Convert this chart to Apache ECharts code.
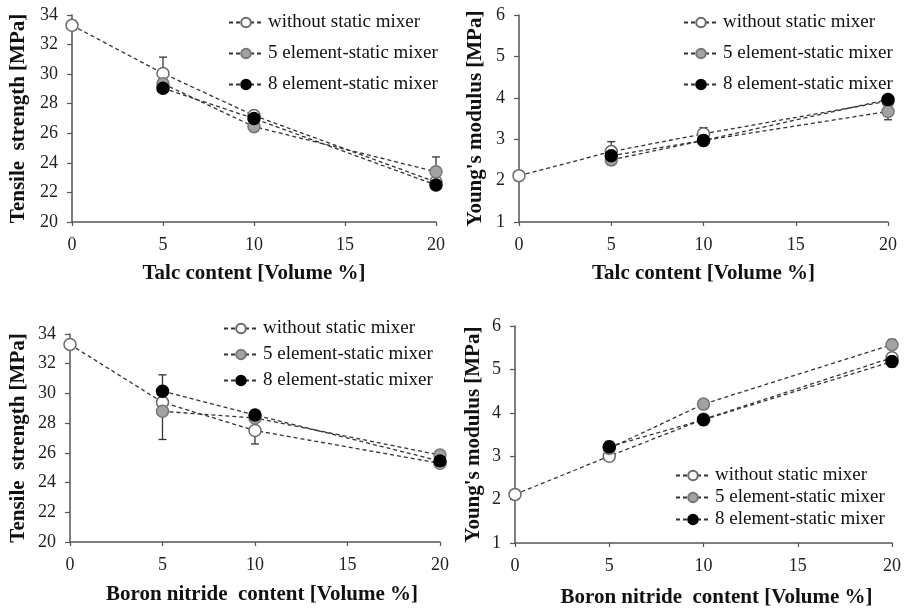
<!DOCTYPE html>
<html>
<head>
<meta charset="utf-8">
<script src="https://cdn.jsdelivr.net/npm/echarts@6/dist/echarts.min.js"></script>
<style>html,body{margin:0;padding:0;background:#fff}#c{width:904px;height:609px}</style>
</head>
<body>
<div id="c"></div>
<script>
// ---- data ----
const seriesNames = ['without static mixer', '5 element-static mixer', '8 element-static mixer'];
const xWithout = [0, 5, 10, 20];
const xMixer = [5, 10, 20];
const xTicks = [0, 5, 10, 15, 20];

// Talc - tensile strength [MPa]
const talcTS_without = [33.3, 30.05, 27.2, 22.7];
const talcTS_5 = [29.35, 26.45, 23.4];
const talcTS_8 = [29.05, 27.0, 22.5];
const talcTS_withoutErr = [[0, 0], [0, 1.1], [0.3, 0.3], [0, 0]];
const talcTS_5Err = [[0, 0], [0, 0], [0, 1.0]];
const talcTS_8Err = [[0, 0], [0, 0], [0, 0]];

// Talc - Young's modulus [MPa]
const talcYM_without = [2.12, 2.7, 3.13, 3.92];
const talcYM_5 = [2.5, 2.97, 3.67];
const talcYM_8 = [2.6, 2.97, 3.96];
const talcYM_withoutErr = [[0, 0], [0, 0.24], [0, 0.15], [0, 0]];
const talcYM_5Err = [[0.12, 0], [0, 0], [0.2, 0]];
const talcYM_8Err = [[0, 0], [0, 0], [0, 0.1]];

// Boron nitride - tensile strength [MPa]
const bnTS_without = [33.3, 29.4, 27.5, 25.3];
const bnTS_5 = [28.8, 28.35, 25.85];
const bnTS_8 = [30.15, 28.55, 25.45];
const bnTS_withoutErr = [[0, 0], [0, 0], [0.9, 0.9], [0, 0]];
const bnTS_5Err = [[1.9, 0], [0, 0], [0, 0]];
const bnTS_8Err = [[0, 1.1], [0, 0], [0, 0]];

// Boron nitride - Young's modulus [MPa]
const bnYM_without = [2.12, 3.0, 3.85, 5.27];
const bnYM_5 = [3.18, 4.2, 5.57];
const bnYM_8 = [3.22, 3.84, 5.18];
const bnYM_withoutErr = [[0.1, 0], [0, 0], [0, 0], [0, 0]];
const bnYM_5Err = [[0, 0], [0, 0], [0, 0.12]];
const bnYM_8Err = [[0, 0.12], [0.12, 0.12], [0.12, 0]];

// ---- styles ----
const FONT = '"Liberation Serif", "DejaVu Serif", serif';
const markerStyles = [
  { color: '#ffffff', borderColor: '#6a6a6a', borderWidth: 1.5 },
  { color: '#a3a3a3', borderColor: '#777777', borderWidth: 1.5 },
  { color: '#000000', borderColor: '#000000', borderWidth: 1.5 }
];

const panels = [
  { grid: { left: 72, top: 15, width: 364, height: 207 }, ymin: 20, ymax: 34, yint: 2,
    yname: 'Tensile  strength [MPa]', xname: 'Talc content [Volume %]', ynameGap: 43, xnameGap: 41, xpad: 0,
    data: [talcTS_without, talcTS_5, talcTS_8], err: [talcTS_withoutErr, talcTS_5Err, talcTS_8Err],
    legend: { left: 223, top: 8, itemGap: 12 } },
  { grid: { left: 519, top: 15, width: 369, height: 207 }, ymin: 1, ymax: 6, yint: 1,
    yname: "Young's modulus [MPa]", xname: 'Talc content [Volume %]', ynameGap: 33, xnameGap: 41, xpad: 0,
    data: [talcYM_without, talcYM_5, talcYM_8], err: [talcYM_withoutErr, talcYM_5Err, talcYM_8Err],
    legend: { left: 678, top: 8, itemGap: 12 } },
  { grid: { left: 70, top: 334, width: 370, height: 208 }, ymin: 20, ymax: 34, yint: 2,
    yname: 'Tensile  strength [MPa]', xname: 'Boron nitride  content [Volume %]', ynameGap: 41, xnameGap: 42, xpad: 14,
    data: [bnTS_without, bnTS_5, bnTS_8], err: [bnTS_withoutErr, bnTS_5Err, bnTS_8Err],
    legend: { left: 218, top: 314, itemGap: 7 } },
  { grid: { left: 515, top: 326, width: 377, height: 220 }, ymin: 1, ymax: 6, yint: 1,
    yname: "Young's modulus [MPa]", xname: 'Boron nitride  content [Volume %]', ynameGap: 31, xnameGap: 44, xpad: 26,
    data: [bnYM_without, bnYM_5, bnYM_8], err: [bnYM_withoutErr, bnYM_5Err, bnYM_8Err],
    legend: { left: 670, top: 461, itemGap: 3 } }
];

const grids = [], xAxes = [], yAxes = [], series = [], legends = [];

function errorRender(params, api) {
  const x = api.value(0), y = api.value(1), lo = api.value(2), hi = api.value(3);
  const pl = api.coord([x, lo]), ph = api.coord([x, hi]);
  const st = { stroke: '#333', lineWidth: 1.3 };
  const ch = [{ type: 'line', shape: { x1: pl[0], y1: pl[1], x2: ph[0], y2: ph[1] }, style: st }];
  const w = 4;
  if (lo < y) ch.push({ type: 'line', shape: { x1: pl[0] - w, y1: pl[1], x2: pl[0] + w, y2: pl[1] }, style: st });
  if (hi > y) ch.push({ type: 'line', shape: { x1: ph[0] - w, y1: ph[1], x2: ph[0] + w, y2: ph[1] }, style: st });
  return { type: 'group', children: ch };
}

panels.forEach((p, i) => {
  grids.push(p.grid);
  xAxes.push({
    gridIndex: i, type: 'value', min: 0, max: 20, interval: 5,
    name: p.xname, nameLocation: 'middle', nameGap: p.xnameGap,
    nameTextStyle: { fontFamily: FONT, fontWeight: 'bold', fontSize: 21, color: '#111', padding: [0, 0, 0, p.xpad] },
    axisLine: { lineStyle: { color: '#555', width: 1.5 } },
    axisTick: { show: true, inside: false, length: 4, lineStyle: { color: '#555', width: 1.2 } },
    axisLabel: { fontFamily: FONT, fontSize: 18, color: '#222', margin: 14 },
    splitLine: { show: false }
  });
  yAxes.push({
    gridIndex: i, type: 'value', min: p.ymin, max: p.ymax, interval: p.yint,
    name: p.yname, nameLocation: 'middle', nameGap: p.ynameGap, nameRotate: 90,
    nameTextStyle: { fontFamily: FONT, fontWeight: 'bold', fontSize: 21, color: '#111' },
    axisLine: { show: true, lineStyle: { color: '#555', width: 1.5 } },
    axisTick: { show: true, inside: false, length: 5, lineStyle: { color: '#555', width: 1.2 } },
    axisLabel: { fontFamily: FONT, fontSize: 18, color: '#222', margin: 14 },
    splitLine: { show: false }
  });
  p.data.forEach((vals, k) => {
    const xs = k === 0 ? xWithout : xMixer;
    const errData = vals.map((v, j) => [xs[j], v, v - p.err[k][j][0], v + p.err[k][j][1]])
      .filter(d => d[2] !== d[1] || d[3] !== d[1]);
    series.push({
      type: 'custom', xAxisIndex: i, yAxisIndex: i, renderItem: errorRender,
      data: errData, encode: { x: 0, y: [1, 2, 3] }, z: 1, silent: true
    });
  });
  p.data.forEach((vals, k) => {
    const xs = k === 0 ? xWithout : xMixer;
    series.push({
      name: seriesNames[k], type: 'line', xAxisIndex: i, yAxisIndex: i,
      data: vals.map((v, j) => [xs[j], v]),
      symbol: 'circle', symbolSize: 12, showSymbol: true,
      lineStyle: { color: '#333', width: 1.3, type: [4, 3] },
      itemStyle: markerStyles[k], z: 2 + k, animation: false
    });
  });
  legends.push({
    data: seriesNames, orient: 'vertical', left: p.legend.left, top: p.legend.top,
    itemGap: p.legend.itemGap, itemWidth: 34, itemHeight: 12,
    textStyle: { fontFamily: FONT, fontSize: 19, color: '#111', lineHeight: 19 },
    selectedMode: false
  });
});

const chart = echarts.init(document.getElementById('c'), null, { renderer: 'canvas' });
chart.setOption({
  backgroundColor: '#fff', animation: false,
  grid: grids, xAxis: xAxes, yAxis: yAxes, legend: legends, series: series
});
</script>
</body>
</html>
